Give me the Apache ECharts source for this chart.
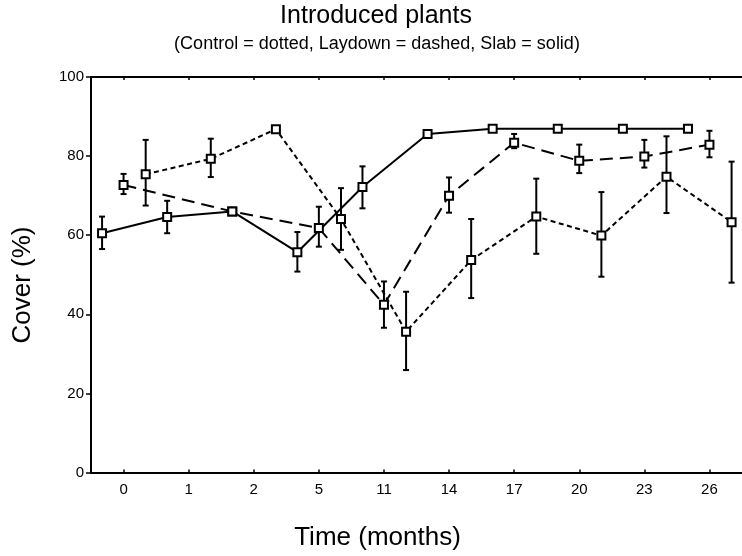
<!DOCTYPE html>
<html>
<head>
<meta charset="utf-8">
<script src="https://cdn.jsdelivr.net/npm/echarts@6/dist/echarts.min.js"></script>
<style>
html,body{margin:0;padding:0;background:#fff;}
#chart{width:742px;height:556px;}
</style>
</head>
<body>
<div id="chart"></div>
<script>
// ---- data ----
const categories = ['0','1','2','5','11','14','17','20','23','26'];
const yTicks = [0, 20, 40, 60, 80, 100];

// Slab (solid)
const slabPos  = [-0.33, 0.67, 1.67, 2.67, 3.67, 4.67, 5.67, 6.67, 7.67, 8.67];
const slabMean = [60.5, 64.6, 66.0, 55.7, 72.2, 85.6, 86.9, 86.9, 86.9, 86.9];
const slabLow  = [56.5, 60.5, 65.2, 50.8, 66.8, 84.8, null, null, null, null];
const slabHigh = [64.7, 68.7, 66.8, 60.8, 77.4, 86.5, null, null, null, null];

// Laydown (dashed)
const layPos  = [0, 1.67, 3, 4, 5, 6, 7, 8, 9];
const layMean = [72.7, 66.0, 61.8, 42.4, 70.0, 83.4, 78.8, 79.9, 82.9];
const layLow  = [70.4, null, 57.1, 36.6, 65.7, 82.0, 75.7, 77.1, 79.7];
const layHigh = [75.5, null, 67.2, 48.3, 74.6, 85.6, 82.9, 84.1, 86.4];

// Control (dotted)
const ctlPos  = [0.34, 1.34, 2.34, 3.34, 4.34, 5.34, 6.34, 7.34, 8.34, 9.34];
const ctlMean = [75.4, 79.3, 86.8, 64.1, 35.6, 53.7, 64.7, 59.9, 74.8, 63.3];
const ctlLow  = [67.5, 74.7, null, 56.3, 25.9, 44.1, 55.3, 49.5, 65.6, 48.0];
const ctlHigh = [84.1, 84.4, null, 71.9, 45.7, 64.1, 74.3, 70.9, 85.0, 78.6];

// ---- build ----
const FONT = "'Liberation Sans', Arial, Helvetica, sans-serif";
function pts(pos, mean){ return pos.map((p,i)=>[p, mean[i]]); }
function bars(pos, lo, hi){
  const out = [];
  pos.forEach((p,i)=>{ if (lo[i] != null && hi[i] != null) out.push([p, lo[i], hi[i]]); });
  return out;
}
function errRender(params, api){
  const x = api.value(0);
  const a = api.coord([x, api.value(1)]);
  const b = api.coord([x, api.value(2)]);
  const w = 3;
  const st = {stroke:'#000', lineWidth:2};
  return {type:'group', children:[
    {type:'line', shape:{x1:a[0], y1:a[1], x2:b[0], y2:b[1]}, style:st},
    {type:'line', shape:{x1:a[0]-w, y1:a[1], x2:a[0]+w, y2:a[1]}, style:st},
    {type:'line', shape:{x1:b[0]-w, y1:b[1], x2:b[0]+w, y2:b[1]}, style:st}
  ]};
}
function errSeries(data){
  return {type:'custom', xAxisIndex:2, yAxisIndex:0, renderItem:errRender, data:data, z:2, silent:true};
}
function lineSeries(name, data, dash){
  return {
    name:name, type:'line', xAxisIndex:2, yAxisIndex:0, data:data, z:3,
    symbol:'rect', symbolSize:8, showSymbol:true,
    itemStyle:{color:'#fff', borderColor:'#000', borderWidth:2},
    lineStyle:{color:'#000', width:2, type:dash},
    emphasis:{disabled:true}
  };
}

const axisLineStyle = {show:true, onZero:false, lineStyle:{color:'#000', width:2}};

const option = {
  animation:false,
  backgroundColor:'#fff',
  grid:{left:91, right:-6, top:77, bottom:83.5, containLabel:false},
  graphic:[
    {type:'text', x:376, y:16.3, style:{text:'Introduced plants', font:'25px '+FONT, fill:'#000', textAlign:'center', textVerticalAlign:'middle'}},
    {type:'text', x:377, y:43.8, style:{text:'(Control = dotted, Laydown = dashed, Slab = solid)', font:'18px '+FONT, fill:'#000', textAlign:'center', textVerticalAlign:'middle'}},
    {type:'text', x:377.5, y:537.7, style:{text:'Time (months)', font:'26px '+FONT, fill:'#000', textAlign:'center', textVerticalAlign:'middle'}},
    {type:'text', x:22.6, y:285, rotation:Math.PI/2, style:{text:'Cover (%)', font:'26px '+FONT, fill:'#000', textAlign:'center', textVerticalAlign:'middle'}}
  ],
  xAxis:[
    {type:'category', data:categories, position:'bottom', boundaryGap:true,
     axisLine:axisLineStyle,
     axisTick:{show:true, inside:true, length:3, alignWithLabel:true, lineStyle:{color:'#000', width:1.5}},
     axisLabel:{show:true, color:'#000', fontSize:15, fontFamily:FONT, margin:10, interval:0},
     splitLine:{show:false}},
    {type:'category', data:categories, position:'top', boundaryGap:true,
     axisLine:axisLineStyle,
     axisTick:{show:true, inside:true, length:3, alignWithLabel:true, lineStyle:{color:'#000', width:1.5}},
     axisLabel:{show:false}, splitLine:{show:false}},
    {type:'value', min:-0.5, max:9.5, show:false}
  ],
  yAxis:[
    {type:'value', min:yTicks[0], max:yTicks[yTicks.length-1], interval:yTicks[1]-yTicks[0],
     position:'left',
     axisLine:axisLineStyle,
     axisTick:{show:true, inside:false, length:5, lineStyle:{color:'#000', width:1.5}},
     axisLabel:{color:'#000', fontSize:15, fontFamily:FONT, margin:7},
     splitLine:{show:false}}
  ],
  series:[
    errSeries(bars(slabPos, slabLow, slabHigh)),
    errSeries(bars(layPos, layLow, layHigh)),
    errSeries(bars(ctlPos, ctlLow, ctlHigh)),
    lineSeries('Slab', pts(slabPos, slabMean), 'solid'),
    lineSeries('Laydown', pts(layPos, layMean), [13, 7]),
    lineSeries('Control', pts(ctlPos, ctlMean), [5, 3.5])
  ]
};

const chart = echarts.init(document.getElementById('chart'), null, {renderer:'canvas'});
chart.setOption(option);
</script>
</body>
</html>
